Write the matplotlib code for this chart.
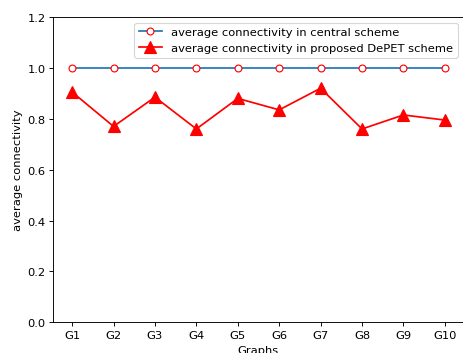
import matplotlib
matplotlib.use("Agg")
import matplotlib.pyplot as plt

graphs = ["G1", "G2", "G3", "G4", "G5", "G6", "G7", "G8", "G9", "G10"]
central = [1.0, 1.0, 1.0, 1.0, 1.0, 1.0, 1.0, 1.0, 1.0, 1.0]
depet = [0.905, 0.77, 0.885, 0.76, 0.88, 0.835, 0.92, 0.76, 0.815, 0.795]

DPI = 82.6
fig = plt.figure(figsize=(464 / DPI, 354 / DPI), dpi=DPI)
ax = fig.add_axes([0.1153, 0.0867, 0.8836, 0.8624])

x = range(len(graphs))
ax.plot(x, central, color="#1f77b4", marker="o", markerfacecolor="white",
        markeredgecolor="red", markersize=6,
        label="average connectivity in central scheme")
ax.plot(x, depet, color="red", marker="^", markersize=10,
        label="average connectivity in proposed DePET scheme")

ax.set_xticks(list(x))
ax.set_xticklabels(graphs)
ax.set_ylim(0, 1.2)
ax.set_xlabel("Graphs")
ax.set_ylabel("average connectivity")
ax.legend(loc="upper right")

fig.savefig("out.png", dpi=DPI)
